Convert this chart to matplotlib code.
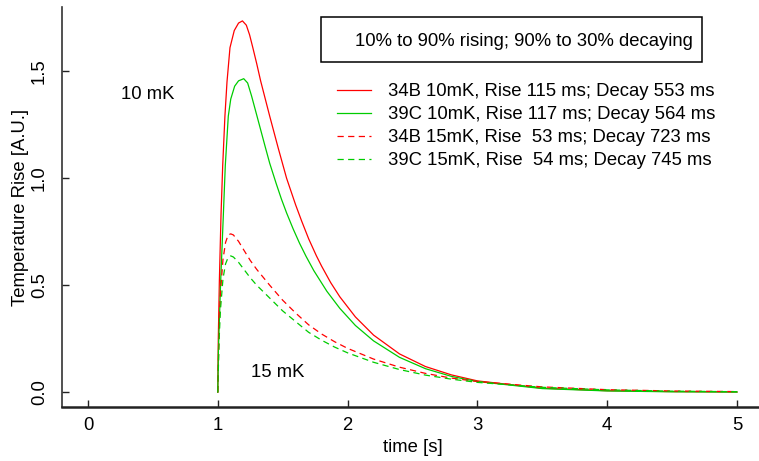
import matplotlib
matplotlib.use("Agg")
import matplotlib.pyplot as plt
from matplotlib.lines import Line2D
from matplotlib.patches import Rectangle

plt.rcParams['font.family'] = ['Liberation Sans', 'DejaVu Sans']

# heater pulse starts at t = 1 s
t_34b_10 = [1.0, 1.004, 1.012, 1.025, 1.038, 1.055, 1.071, 1.094, 1.127, 1.16, 1.19, 1.22, 1.245,
            1.27, 1.3, 1.33, 1.4, 1.466, 1.53, 1.6, 1.646, 1.7, 1.76, 1.8, 1.87, 1.94, 2.06, 2.2,
            2.4, 2.6, 2.8, 3.0, 3.5, 4.0, 4.5, 5.0]
v_34b_10 = [0.0, 0.25, 0.515, 0.83, 1.06, 1.29, 1.45, 1.61, 1.69, 1.725, 1.735, 1.715, 1.67,
            1.61, 1.535, 1.455, 1.29, 1.14, 1.0, 0.875, 0.80, 0.717, 0.637, 0.589, 0.512, 0.446,
            0.352, 0.267, 0.179, 0.12, 0.081, 0.053, 0.019, 0.007, 0.003, 0.001]

t_39c_10 = [1.0, 1.005, 1.022, 1.043, 1.058, 1.081, 1.1, 1.13, 1.16, 1.2, 1.23, 1.26, 1.3,
            1.364, 1.4, 1.45, 1.49, 1.53, 1.58, 1.63, 1.68, 1.74, 1.84, 1.94, 2.06, 2.2, 2.4, 2.6,
            2.8, 3.0, 3.5, 4.0, 4.5, 5.0]
v_39c_10 = [0.0, 0.2, 0.515, 0.83, 1.06, 1.29, 1.37, 1.43, 1.455, 1.465, 1.445, 1.385, 1.295,
            1.15, 1.07, 0.975, 0.903, 0.838, 0.764, 0.696, 0.635, 0.568, 0.472, 0.392, 0.312,
            0.24, 0.163, 0.11, 0.074, 0.05, 0.017, 0.006, 0.002, 0.001]

t_15 = [1.0, 1.01, 1.02, 1.04, 1.06, 1.08, 1.1, 1.12, 1.16, 1.2, 1.25, 1.3, 1.4, 1.5, 1.6, 1.7,
        1.8, 1.9, 2.0, 2.2, 2.4, 2.6, 2.8, 3.0, 3.5, 4.0, 4.5, 5.0]
v_34b_15 = [0.0, 0.3, 0.46, 0.62, 0.70, 0.735, 0.74, 0.735, 0.705, 0.665, 0.616, 0.574, 0.50,
            0.43, 0.37, 0.315, 0.272, 0.236, 0.205, 0.155, 0.117, 0.088, 0.066, 0.050, 0.025,
            0.012, 0.006, 0.003]
v_39c_15 = [0.0, 0.24, 0.38, 0.53, 0.60, 0.63, 0.637, 0.632, 0.607, 0.575, 0.535, 0.50, 0.44,
            0.38, 0.33, 0.28, 0.243, 0.211, 0.184, 0.140, 0.106, 0.080, 0.061, 0.046, 0.023,
            0.011, 0.005, 0.0025]

labels = ["34B 10mK, Rise 115 ms; Decay 553 ms",
          "39C 10mK, Rise 117 ms; Decay 564 ms",
          "34B 15mK, Rise  53 ms; Decay 723 ms",
          "39C 15mK, Rise  54 ms; Decay 745 ms"]

red = "#ff0000"
green = "#00cc00"
fs = 13.3

fig = plt.figure(figsize=(7.59, 4.61), dpi=100)
ax = fig.add_axes([62 / 759, 54 / 461, 701 / 759, 400 / 461])

ls_dash = (0, (5, 3.5))
ax.plot(t_34b_10, v_34b_10, color=red, lw=0.9)
ax.plot(t_39c_10, v_39c_10, color=green, lw=0.9)
ax.plot(t_15, v_34b_15, color=red, lw=0.9, linestyle=ls_dash)
ax.plot(t_15, v_39c_15, color=green, lw=0.9, linestyle=ls_dash)

ax.set_xlim(-0.2, 5.2)
ax.set_ylim(-0.069, 1.80)
ax.set_xticks([0, 1, 2, 3, 4, 5])
ax.set_yticks([0.0, 0.5, 1.0, 1.5])
ax.set_yticklabels(["0.0", "0.5", "1.0", "1.5"], rotation=90, va="center")
ax.tick_params(direction="in", length=5, width=1, labelsize=fs, colors="#222222")
ax.tick_params(axis="x", pad=7)
ax.tick_params(axis="y", pad=10)
for lab in ax.get_xticklabels() + ax.get_yticklabels():
    lab.set_color("black")

ax.spines["top"].set_visible(False)
ax.spines["right"].set_visible(False)
ax.spines["left"].set_linewidth(1.2)
ax.spines["left"].set_color("#333333")
ax.spines["bottom"].set_linewidth(1.8)
ax.spines["bottom"].set_color("#222222")

ax.set_xlabel("time [s]", fontsize=fs, labelpad=4)
ax.set_ylabel("Temperature Rise [A.U.]", fontsize=fs, labelpad=1.5)

ax.text(0.46, 1.39, "10 mK", fontsize=fs, ha="center", va="center")
ax.text(1.46, 0.093, "15 mK", fontsize=fs, ha="center", va="center")

# boxed note (box is wider on the left, like an R legend without a symbol)
fig.patches.append(Rectangle((321 / 759, 1 - 62 / 461), 381 / 759, 45 / 461,
                             transform=fig.transFigure, fill=False, ec="black", lw=1.1))
fig.text(355 / 759, 1 - 41 / 461, "10% to 90% rising; 90% to 30% decaying",
         fontsize=fs, ha="left", va="center")

handles = [Line2D([], [], color=red, lw=0.9),
           Line2D([], [], color=green, lw=0.9),
           Line2D([], [], color=red, lw=0.9, linestyle=ls_dash),
           Line2D([], [], color=green, lw=0.9, linestyle=ls_dash)]
ax.legend(handles, labels, loc="upper left", bbox_to_anchor=(337 / 759, 1 - 83 / 461),
          bbox_transform=fig.transFigure, frameon=False, fontsize=fs,
          handlelength=1.85, handletextpad=0.9, labelspacing=0.33, borderpad=0, borderaxespad=0)

fig.savefig("out.png", dpi=100)
